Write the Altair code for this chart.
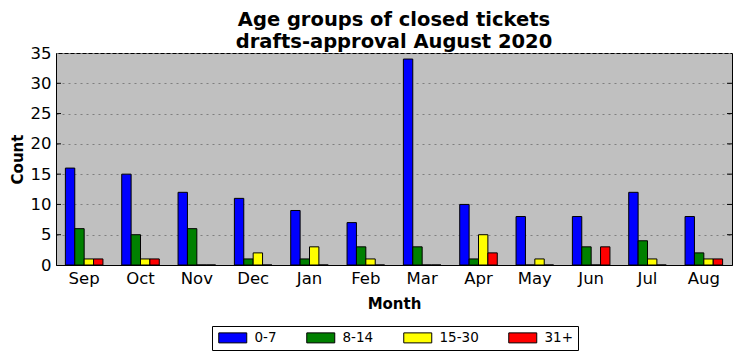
import altair as alt
import pandas as pd

months = ["Sep", "Oct", "Nov", "Dec", "Jan", "Feb", "Mar", "Apr", "May", "Jun", "Jul", "Aug"]
groups = ["0-7", "8-14", "15-30", "31+"]
g0_7 = [16, 15, 12, 11, 9, 7, 34, 10, 8, 8, 12, 8]
g8_14 = [6, 5, 6, 1, 1, 3, 3, 1, 0, 3, 4, 2]
g15_30 = [1, 1, 0, 2, 3, 1, 0, 5, 1, 0, 1, 1]
g31 = [1, 1, 0, 0, 0, 0, 0, 2, 0, 3, 0, 1]
colors = ["#0000ff", "#008000", "#ffff00", "#ff0000"]
y_ticks = [0, 5, 10, 15, 20, 25, 30, 35]

rows = []
for g, vals in zip(groups, [g0_7, g8_14, g15_30, g31]):
    for m, v in zip(months, vals):
        rows.append({"Month": m, "Group": g, "Count": v})
df = pd.DataFrame(rows)
tick_df = pd.DataFrame({"Count": y_ticks[1:-1]})

W, H = 676, 212
FONT = "DejaVu Sans"
yscale = alt.Scale(domain=[0, 35], nice=False, zero=True)
yaxis = alt.Axis(title="Count", values=y_ticks, grid=True, ticks=False,
                 tickSize=0, labelPadding=5, titlePadding=5)

bars = alt.Chart(df).mark_bar(stroke="black", strokeWidth=1, opacity=1).encode(
    x=alt.X("Month:N", sort=months,
            scale=alt.Scale(paddingInner=1/3, paddingOuter=1/6),
            axis=alt.Axis(title="Month", labelAngle=0, ticks=False, tickSize=0,
                          labelPadding=5, titlePadding=10)),
    xOffset=alt.XOffset("Group:N", sort=groups,
                        scale=alt.Scale(paddingInner=0, paddingOuter=0)),
    y=alt.Y("Count:Q", scale=yscale, axis=yaxis),
    color=alt.Color("Group:N", sort=groups,
                    scale=alt.Scale(domain=groups, range=colors),
                    legend=alt.Legend(
                        title=None, orient="none", legendX=156, legendY=273,
                        direction="horizontal", strokeColor="black", fillColor="white",
                        padding=5, columnPadding=27, labelOffset=15,
                        symbolType="M-2.8,-1L2.8,-1L2.8,1L-2.8,1Z",
                        symbolSize=100, symbolOffset=9,
                        symbolStrokeColor="black", symbolStrokeWidth=1,
                        symbolOpacity=1, labelFontSize=13.5, labelFont=FONT,
                        labelColor="black")),
)

left_ticks = alt.Chart(tick_df).mark_rule(color="black", strokeWidth=1).encode(
    y=alt.Y("Count:Q", scale=yscale, axis=yaxis), x=alt.value(0), x2=alt.value(5))
right_ticks = alt.Chart(tick_df).mark_rule(color="black", strokeWidth=1).encode(
    y=alt.Y("Count:Q", scale=yscale, axis=yaxis), x=alt.value(W - 5), x2=alt.value(W))

chart = alt.layer(bars, left_ticks, right_ticks).properties(
    width=W, height=H,
    background="white",
    title=alt.TitleParams(["Age groups of closed tickets", "drafts-approval August 2020"],
                          fontSize=19.5, font=FONT, fontWeight="bold", anchor="middle",
                          offset=-7, lineHeight=22, color="black"),
    autosize=alt.AutoSizeParams(type="none"),
    padding={"left": 48, "top": 45, "right": 2, "bottom": 88},
).configure_view(fill="#c0c0c0", stroke="black", strokeWidth=1).configure_axis(
    labelFont=FONT, labelFontSize=16.5, labelColor="black",
    titleFont=FONT, titleFontSize=15, titleFontWeight="bold", titleColor="black",
    domainColor="black", gridColor="#7f7f7f", gridDash=[2, 4], gridWidth=1,
)

chart.save("out.html", embed_options={"renderer": "svg", "actions": False})
